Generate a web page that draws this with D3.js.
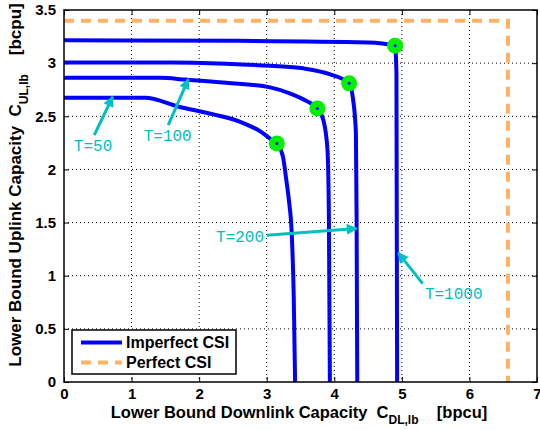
<!DOCTYPE html>
<html>
<head>
<meta charset="utf-8">
<script src="https://cdn.jsdelivr.net/npm/d3@7"></script>
<style>
  body { margin: 0; background: #fff; }
</style>
</head>
<body>
<svg width="540" height="430" font-family="Liberation Sans, Arial, sans-serif"></svg>
<script>
// curves (downlink, uplink) in bpcu
var t50X   = [0, 1.2, 1.7, 2.2, 2.6, 2.9, 3.05, 3.15, 3.24, 3.29, 3.33, 3.37, 3.40, 3.42];
var t50Y   = [2.674, 2.674, 2.59, 2.52, 2.45, 2.36, 2.29, 2.245, 2.12, 1.90, 1.70, 1.40, 0.8, 0];
var t100X  = [0, 1.42, 1.8, 2.4, 3.05, 3.34, 3.6, 3.75, 3.84, 3.90, 3.92, 3.935];
var t100Y  = [2.862, 2.862, 2.845, 2.815, 2.772, 2.716, 2.64, 2.574, 2.46, 2.18, 1.57, 0];
var t200X  = [0, 1.57, 2.4, 3.05, 3.54, 3.93, 4.22, 4.28, 4.32, 4.33, 4.34];
var t200Y  = [3.007, 3.007, 2.995, 2.975, 2.951, 2.897, 2.81, 2.65, 2.34, 1.57, 0];
var t1000X = [0, 2.5, 4.5, 4.90, 4.92, 4.93];
var t1000Y = [3.215, 3.21, 3.195, 3.164, 2.9, 0];

var perfectX = [0, 6.57, 6.57];
var perfectY = [3.4, 3.4, 0];

// marked points on each curve
var dotX = [3.15, 3.75, 4.22, 4.90];
var dotY = [2.245, 2.574, 2.81, 3.164];

// annotations: label, text pos, arrow start, arrow tip
var noteText = ["T=50", "T=100", "T=200", "T=1000"];
var noteX    = [0.43, 1.535, 2.605, 5.767];
var noteY    = [2.229, 2.323, 1.372, 0.832];
var arrowX0  = [0.448, 1.543, 3.0, 5.308];
var arrowY0  = [2.323, 2.417, 1.381, 0.926];
var arrowX1  = [0.72, 1.84, 4.33, 4.947];
var arrowY1  = [2.684, 2.85, 1.444, 1.215];

var xTicks = [0, 1, 2, 3, 4, 5, 6, 7];
var yTicks = [0, 0.5, 1, 1.5, 2, 2.5, 3, 3.5];

var svg = d3.select("svg"),
    margin = {top: 10, right: 3, bottom: 48, left: 64},
    width = +svg.attr("width") - margin.left - margin.right,
    height = +svg.attr("height") - margin.top - margin.bottom,
    g = svg.append("g").attr("transform", "translate(" + margin.left + "," + margin.top + ")");

var x = d3.scaleLinear().domain([0, 7]).range([0, width]);
var y = d3.scaleLinear().domain([0, 3.5]).range([height, 0]);

// grid
g.append("g").selectAll("line").data(xTicks.slice(1, -1)).enter().append("line")
    .attr("x1", d => x(d)).attr("x2", d => x(d))
    .attr("y1", 0).attr("y2", height)
    .attr("stroke", "#000").attr("stroke-width", 1).attr("stroke-dasharray", "1,3");
g.append("g").selectAll("line").data(yTicks.slice(1, -1)).enter().append("line")
    .attr("y1", d => y(d)).attr("y2", d => y(d))
    .attr("x1", 0).attr("x2", width)
    .attr("stroke", "#000").attr("stroke-width", 1).attr("stroke-dasharray", "1,3");

// axes, ticks pointing in on all four sides
function styleAxis(sel) {
    sel.select(".domain").remove();
    sel.selectAll("text").style("font-size", "15px").style("font-weight", "bold")
        .style("font-family", "Liberation Sans, Arial, sans-serif").attr("fill", "#000");
    sel.selectAll("line").attr("stroke-width", 1);
}
g.append("g").attr("transform", "translate(0," + height + ")")
    .call(d3.axisBottom(x).tickValues(xTicks).tickSize(-5).tickPadding(6).tickFormat(d3.format("d")))
    .call(styleAxis);
g.append("g")
    .call(d3.axisTop(x).tickValues(xTicks).tickSize(-5).tickFormat(""))
    .call(styleAxis);
g.append("g")
    .call(d3.axisLeft(y).tickValues(yTicks).tickSize(-5).tickPadding(8).tickFormat(d => d))
    .call(styleAxis);
g.append("g").attr("transform", "translate(" + width + ",0)")
    .call(d3.axisRight(y).tickValues(yTicks).tickSize(-5).tickFormat(""))
    .call(styleAxis);

var line = d3.line()
    .x(d => x(d[0]))
    .y(d => y(d[1]))
    .curve(d3.curveMonotoneX);

// perfect CSI bound
g.append("path")
    .datum(d3.zip(perfectX, perfectY))
    .attr("fill", "none")
    .attr("stroke", "#ffb266")
    .attr("stroke-width", 4)
    .attr("stroke-dasharray", "10,7")
    .attr("d", d3.line().x(d => x(d[0])).y(d => y(d[1])));

// imperfect CSI curves
[[t50X, t50Y], [t100X, t100Y], [t200X, t200Y], [t1000X, t1000Y]].forEach(function(s) {
    g.append("path")
        .datum(d3.zip(s[0], s[1]))
        .attr("fill", "none")
        .attr("stroke", "#0000ff")
        .attr("stroke-width", 4)
        .attr("stroke-linejoin", "round")
        .attr("d", line);
});

// green markers
var dots = d3.zip(dotX, dotY);
g.selectAll(".dot").data(dots).enter().append("circle")
    .attr("cx", d => x(d[0])).attr("cy", d => y(d[1]))
    .attr("r", 8).attr("fill", "#00f000");
g.selectAll(".dotc").data(dots).enter().append("circle")
    .attr("cx", d => x(d[0])).attr("cy", d => y(d[1]))
    .attr("r", 1.5).attr("fill", "#0000ff");

// frame
g.append("rect").attr("width", width).attr("height", height)
    .attr("fill", "none").attr("stroke", "#000").attr("stroke-width", 1.5);

// annotations
var cyan = "#00bfbf";
svg.append("defs").append("marker")
    .attr("id", "head").attr("viewBox", "0 0 10 10")
    .attr("refX", 9).attr("refY", 5)
    .attr("markerWidth", 4).attr("markerHeight", 3.6)
    .attr("markerUnits", "strokeWidth")
    .attr("orient", "auto")
    .append("path").attr("d", "M0,0L10,5L0,10z").attr("fill", cyan);

noteText.forEach(function(t, i) {
    g.append("line")
        .attr("x1", x(arrowX0[i])).attr("y1", y(arrowY0[i]))
        .attr("x2", x(arrowX1[i])).attr("y2", y(arrowY1[i]))
        .attr("stroke", cyan).attr("stroke-width", 3)
        .attr("marker-end", "url(#head)");
    g.append("text")
        .attr("x", x(noteX[i])).attr("y", y(noteY[i]))
        .attr("dy", "0.35em")
        .attr("text-anchor", "middle")
        .style("font-family", "'Liberation Mono', 'Courier New', monospace")
        .style("font-size", "16px")
        .attr("fill", cyan)
        .text(t);
});

// legend
var lg = g.append("g").attr("transform", "translate(8," + (height - 52) + ")");
lg.append("rect").attr("width", 164).attr("height", 44)
    .attr("fill", "#fff").attr("stroke", "#000").attr("stroke-width", 1.5);
lg.append("line").attr("x1", 9).attr("x2", 50).attr("y1", 12.5).attr("y2", 12.5)
    .attr("stroke", "#0000ff").attr("stroke-width", 4);
lg.append("line").attr("x1", 9).attr("x2", 50).attr("y1", 32.5).attr("y2", 32.5)
    .attr("stroke", "#ffb266").attr("stroke-width", 4).attr("stroke-dasharray", "10,7");
lg.append("text").attr("x", 54).attr("y", 12.5).attr("dy", "0.35em")
    .attr("font-size", 16).attr("font-weight", "bold").text("Imperfect CSI");
lg.append("text").attr("x", 54).attr("y", 32.5).attr("dy", "0.35em")
    .attr("font-size", 16).attr("font-weight", "bold").text("Perfect CSI");

// axis titles
var xl = svg.append("text")
    .attr("x", 299).attr("y", 418)
    .attr("text-anchor", "middle")
    .attr("font-size", 16.5).attr("font-weight", "bold");
xl.append("tspan").text("Lower Bound Downlink Capacity\u00a0\u00a0C");
xl.append("tspan").attr("dy", 6).attr("font-size", 12).text("DL,lb");
xl.append("tspan").attr("dy", -6).text("\u00a0\u00a0\u00a0\u00a0[bpcu]");

var yl = svg.append("text")
    .attr("transform", "translate(21,185) rotate(-90)")
    .attr("text-anchor", "middle")
    .attr("font-size", 17).attr("font-weight", "bold");
yl.append("tspan").text("Lower Bound Uplink Capacity\u00a0\u00a0C");
yl.append("tspan").attr("dy", 7).attr("font-size", 12).text("UL,lb");
yl.append("tspan").attr("dy", -7).text("\u00a0\u00a0\u00a0\u00a0[bcpu]");
</script>
</body>
</html>
